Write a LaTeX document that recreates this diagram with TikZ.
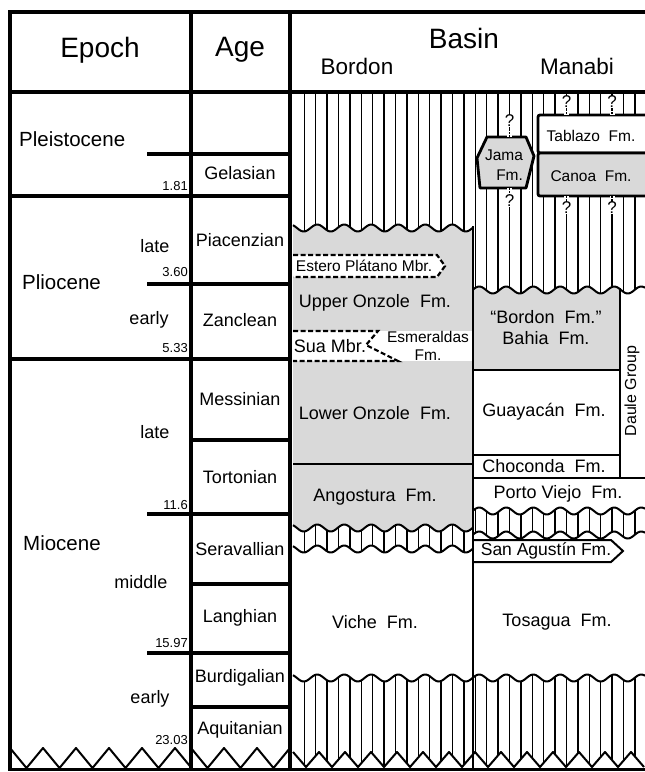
\documentclass[tikz,border=0pt]{standalone}
\usepackage{fontspec}
\setmainfont{Liberation Sans}
\begin{document}
\begin{tikzpicture}[x=1pt,y=-1pt,
  declare function={wv(\a,\b)=\b+3.5*sin(13.33333*mod(\a,27));
                    zb(\a)=767-15*abs(mod(\a-293,26)/13-1);
                    ze(\a)=768-20*abs(mod(\a-10,33)/16.5-1);
                    za(\a)=768-20*abs(mod(\a-191,33)/16.5-1);},
  frame/.style={line width=4pt},
  boxline/.style={line width=2.8pt},
  hatchline/.style={line width=1.5pt},
  wline/.style={line width=2pt, line join=round},
  dashline/.style={line width=2.2pt, dash pattern=on 5pt off 2.5pt},
  gfill/.style={fill=black!15},
  txt/.style={inner sep=0pt},
  hdr/.style={txt,font=\fontsize{28}{30}\selectfont},
  subhdr/.style={txt,font=\fontsize{22.5}{24}\selectfont},
  epo/.style={txt,font=\fontsize{20.5}{22}\selectfont},
  agename/.style={txt,font=\fontsize{18}{20}\selectfont},
  num/.style={txt,font=\fontsize{13}{14}\selectfont},
  fm/.style={txt,font=\fontsize{18}{21}\selectfont},
  smfm/.style={txt,font=\fontsize{15.5}{19}\selectfont},
  qmark/.style={txt,font=\fontsize{17}{19}\selectfont, fill=white, inner sep=0.5pt},
]
\useasboundingbox (0,0) rectangle (645,772);
\clip (0,0) rectangle (645,772);

% ---------- grey fills ----------
\fill[gfill] plot[domain=293:473,samples=120,variable=\t] (\t,{wv(\t,228)}) -- (473,464) -- (293,464) -- cycle;
\fill[gfill] (293,464) -- (473,464) -- plot[domain=473:293,samples=120,variable=\t] (\t,{wv(\t,528)}) -- cycle;
\fill[gfill] plot[domain=473:620,samples=100,variable=\t] (\t,{wv(\t,290)}) -- (620,370) -- (473,370) -- cycle;

% ---------- hatched (hiatus) regions ----------
\begin{scope}
  \clip (293,92) -- plot[domain=293:473,samples=120,variable=\t] (\t,{wv(\t,228)})
        -- plot[domain=473:645,samples=120,variable=\t] (\t,{wv(\t,290)}) -- (645,92) -- cycle;
  \foreach \h in {304.3,315.7,...,645} \draw[hatchline] (\h,90) -- (\h,300);
\end{scope}
\begin{scope}
  \clip plot[domain=293:473,samples=120,variable=\t] (\t,{wv(\t,528)})
        -- plot[domain=473:293,samples=120,variable=\t] (\t,{wv(\t,549)}) -- cycle;
  \foreach \h in {304.3,315.7,...,473} \draw[hatchline] (\h,515) -- (\h,560);
\end{scope}
\begin{scope}
  \clip plot[domain=473:645,samples=120,variable=\t] (\t,{wv(\t,511)})
        -- plot[domain=645:473,samples=120,variable=\t] (\t,{wv(\t,535)}) -- cycle;
  \foreach \h in {304.3,315.7,...,645} \draw[hatchline] (\h,500) -- (\h,545);
\end{scope}
\begin{scope}
  \clip plot[domain=293:645,samples=250,variable=\t] (\t,{wv(\t,678)})
        -- plot[samples at={644,631,...,293},variable=\t] (\t,{zb(\t)}) -- cycle;
  \foreach \h in {304.3,315.7,...,645} \draw[hatchline] (\h,665) -- (\h,772);
\end{scope}

% ---------- wavy unconformities and zigzags ----------
\draw[wline] plot[domain=293:473,samples=120,variable=\t] (\t,{wv(\t,228)});
\draw[wline] plot[domain=473:645,samples=120,variable=\t] (\t,{wv(\t,290)});
\draw[wline] plot[domain=293:473,samples=120,variable=\t] (\t,{wv(\t,528)});
\draw[wline] plot[domain=293:473,samples=120,variable=\t] (\t,{wv(\t,549)});
\draw[wline] plot[domain=473:645,samples=120,variable=\t] (\t,{wv(\t,511)});
\draw[wline] plot[domain=473:645,samples=120,variable=\t] (\t,{wv(\t,535)});
\draw[wline] plot[domain=293:645,samples=250,variable=\t] (\t,{wv(\t,678)});
\draw[wline] plot[samples at={293,306,...,644},variable=\t] (\t,{zb(\t)});
\draw[wline] plot[samples at={10,26.5,...,191.5},variable=\t] (\t,{ze(\t)});
\draw[wline] plot[samples at={191,207.5,...,290},variable=\t] (\t,{za(\t)});

% ---------- Bordon members ----------
\filldraw[fill=white, draw=black, dashline] (293,255) -- (437,255) -- (445,266) -- (437,277) -- (293,277);
\fill[white] (293,331) rectangle (473,361);
\draw[dashline] (293,331) -- (378,331) -- (366,345) -- (398,361) -- (293,361);

% ---------- Manabi boxes ----------
\draw[boxline, fill=white, rounded corners=2pt] (538,115) rectangle (660,153);
\draw[boxline, gfill, rounded corners=2pt] (538,153) rectangle (660,196);
\draw[boxline, gfill, line join=round] (487,137) -- (526,137) -- (534,156) -- (526,188) -- (480,188) -- (477,158) -- cycle;
\draw[line width=2pt, fill=white] (473,540) -- (611,540) -- (623,551) -- (611,562) -- (473,562);

% question marks (uncertain contacts)
\foreach \qx/\qa/\qb/\qy [count=\qi] in {509.5/129/137/121, 509.5/188/194/201, 566.5/109/115/102, 612.1/109/115/102, 566.5/196/201/208, 612.1/196/201/208}{
  \draw[white, line width=5pt] (\qx,\qa) -- (\qx,\qb);
  \draw[line width=1.6pt, dash pattern=on 1.6pt off 1.6pt] (\qx,\qa) -- (\qx,\qb);
  \node[qmark] (q\qi) at (\qx,\qy) {?};
}

% ---------- structural lines ----------
\draw[boxline] (293,464) -- (473,464);
\draw[boxline] (473,226) -- (473,771);
\draw[boxline] (473,370) -- (620,370);
\draw[boxline] (473,455) -- (620,455);
\draw[boxline] (473,478) -- (645,478);
\draw[boxline] (620,288) -- (620,479);

% ---------- frame ----------
\draw[frame] (8,12) -- (645,12);
\draw[frame] (8,92) -- (645,92);
\draw[frame] (10,10) -- (10,771);
\draw[frame] (191,10) -- (191,771);
\draw[frame] (290,10) -- (290,771);
\draw[line width=3pt] (8,769) -- (645,769);
\draw[frame] (10,196) -- (290,196);
\draw[frame] (10,359) -- (290,359);
\foreach \yy in {154,284,514,653} \draw[frame] (147,\yy) -- (290,\yy);
\foreach \yy in {440,584,707} \draw[frame] (191,\yy) -- (290,\yy);

% ---------- header ----------
\node[hdr] (hEpoch) at (100,50) {Epoch};
\node[hdr] (hAge) at (240,50) {Age};
\node[hdr] (hBasin) at (464,38) {Basin};
\node[subhdr] (hBordon) at (357,66) {Bordon};
\node[subhdr] (hManabi) at (577,66) {Manabi};

% ---------- epochs / ages ----------
\node[epo, anchor=west] (ePleist) at (19,139) {Pleistocene};
\node[epo, anchor=west] (ePlio) at (22,282) {Pliocene};
\node[epo, anchor=west] (eMio) at (23,543) {Miocene};
\node[agename] (s1) at (155,246) {late};
\node[agename] (s2) at (149,320) {early};
\node[agename] (s3) at (155,432) {late};
\node[agename] (s4) at (141,582) {middle};
\node[agename] (s5) at (150,699) {early};
\node[num, anchor=east] (n1) at (188,186) {1.81};
\node[num, anchor=east] (n2) at (188,272) {3.60};
\node[num, anchor=east] (n3) at (188,348) {5.33};
\node[num, anchor=east] (n4) at (188,505) {11.6};
\node[num, anchor=east] (n5) at (188,643) {15.97};
\node[num, anchor=east] (n6) at (188,740) {23.03};
\node[agename] (a1) at (240,173) {Gelasian};
\node[agename] (a2) at (240,240) {Piacenzian};
\node[agename] (a3) at (240,320) {Zanclean};
\node[agename] (a4) at (240,399) {Messinian};
\node[agename] (a5) at (240,477) {Tortonian};
\node[agename] (a6) at (240,549) {Seravallian};
\node[agename] (a7) at (240,618) {Langhian};
\node[agename] (a8) at (240,678) {Burdigalian};
\node[agename] (a9) at (240,730) {Aquitanian};

% ---------- Bordon formations ----------
\node[smfm] (fEstero) at (364,266) {Estero Plátano Mbr.};
\node[fm] (fUpper) at (375,303) {Upper Onzole~ Fm.};
\node[fm] (fSua) at (330,346) {Sua Mbr.};
\node[smfm, align=center, font=\fontsize{15.5}{18}\selectfont] (fEsm) at (428,346) {Esmeraldas\\Fm.};
\node[fm] (fLower) at (375,413) {Lower Onzole~ Fm.};
\node[fm] (fAng) at (375,497) {Angostura~ Fm.};
\node[fm] (fViche) at (375,622) {Viche~ Fm.};

% ---------- Manabi formations ----------
\node[smfm, align=right, font=\fontsize{15.5}{20}\selectfont] (fJama) at (504,165) {Jama\\Fm.};
\node[smfm] (fTab) at (591,136) {Tablazo~ Fm.};
\node[smfm] (fCanoa) at (591,176) {Canoa~ Fm.};
\node[fm, align=center, font=\fontsize{18}{21}\selectfont] (fBahia) at (546,328) {“Bordon~ Fm.”\\Bahia~ Fm.};
\node[fm] (fGuay) at (544,412) {Guayacán~ Fm.};
\node[fm] (fChoc) at (544,466) {Choconda~ Fm.};
\node[txt, rotate=90, font=\fontsize{16}{18}\selectfont] (fDaule) at (632,391) {Daule Group};
\node[fm] (fPorto) at (558,494) {Porto Viejo~ Fm.};
\node[fm, font=\fontsize{17.5}{20}\selectfont] (fSanA) at (546,551) {San Agustín Fm.};
\node[fm] (fTos) at (557,622) {Tosagua~ Fm.};
\end{tikzpicture}
\end{document}
